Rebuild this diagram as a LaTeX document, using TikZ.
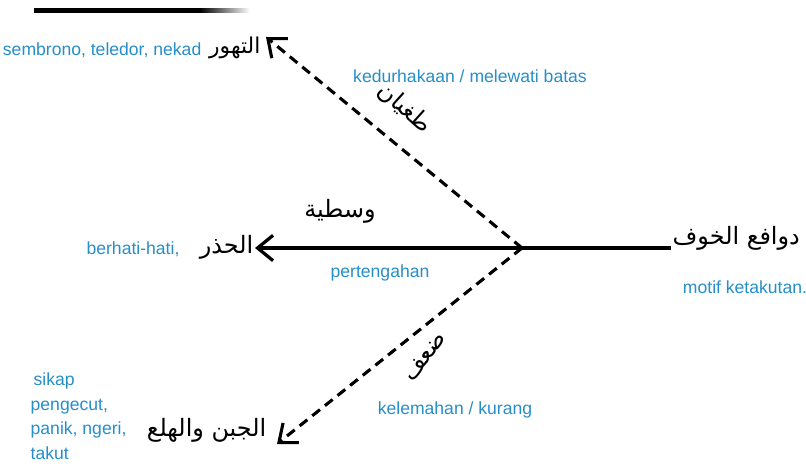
\documentclass[tikz,border=0pt]{standalone}
\usepackage{fontspec}
\usepackage{xcolor}
\usepackage{tikz}
\usetikzlibrary{arrows.meta,positioning}
\TeXXeTstate=1
\newfontfamily\arabicfont[Script=Arabic]{DejaVu Sans}
\newfontfamily\latinfont{Liberation Sans}
\definecolor{glossblue}{RGB}{38,142,200}
\newcommand{\ar}[1]{\arabicfont\beginR #1\endR}

\begin{document}
\begin{tikzpicture}[
    x=0.025cm, y=-0.025cm,
    term/.style={font=\fontsize{17}{19}\selectfont, inner sep=1pt},
    gloss/.style={font=\latinfont\fontsize{12.5}{17.5}\selectfont, text=glossblue, inner sep=1pt},
    mainline/.style={line width=2.3pt, -{Straight Barb[length=11pt,width=18pt]}},
    dashline/.style={line width=2.2pt, dash pattern=on 7pt off 4.5pt, -{Straight Barb[length=11pt,width=18pt,line width=2.2pt]}}
]
\useasboundingbox (0,0) rectangle (806,471);
% top rule
\fill[black] (34,8.5) rectangle (200,13);
\shade[left color=black, right color=white] (200,8.5) rectangle (250,13);

\coordinate (c) at (522,248);
\coordinate (tipT) at (266,37);
\coordinate (tipJ) at (277,444);

\node[term, anchor=west] (khawf) at (671,238) {\ar{دوافع الخوف}};
\node[term, anchor=east] (hadhar) at (255,247) {\ar{الحذر}};
\node[term, anchor=east, font=\fontsize{15.5}{18}\selectfont] (tahawwur) at (262,48) {\ar{التهور}};
\node[term, anchor=east] (jubn) at (268,430) {\ar{الجبن والهلع}};

\draw[line width=2.3pt] (khawf.west |- c) -- (c);
\draw[mainline] (c) -- (hadhar.east |- c);
\draw[dashline] (c) -- (tipT);
\draw[dashline] (c) -- (tipJ);

\node[term, rotate=-42] (tughyan) at (405,108) {\ar{طغيان}};
\node[term] (wasat) at (340,211) {\ar{وسطية}};
\node[term, rotate=52] (duf) at (425,357) {\ar{ضعف}};

\node[gloss, anchor=east] (g1) at (203,50) {sembrono, teledor, nekad};
\node[gloss] (g2) at (470,76) {kedurhakaan / melewati batas};
\node[gloss] (g3) at (133,249) {berhati-hati,};
\node[gloss] (g4) at (380,273) {pertengahan};
\node[gloss] (g5) at (745,287) {motif ketakutan.};
\node[gloss] (g6) at (455,410) {kelemahan / kurang};
\node[gloss, align=left, anchor=north west] (g7) at (29,371) {\,sikap\\pengecut,\\panik, ngeri,\\takut};
\end{tikzpicture}
\end{document}
